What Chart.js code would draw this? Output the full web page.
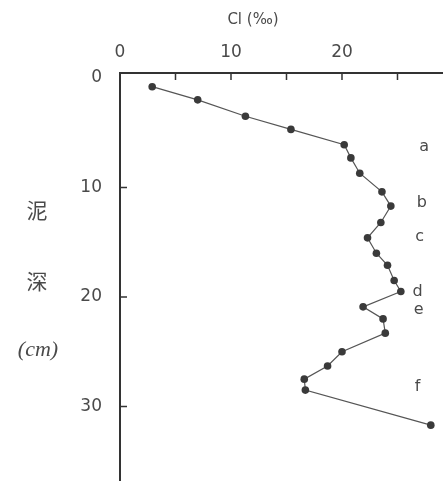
<!DOCTYPE html>
<html>
<head>
<meta charset="utf-8">
<script src="https://cdn.jsdelivr.net/npm/chart.js@4"></script>
<style>
  html, body { margin: 0; padding: 0; background: #fff; }
  #wrap { width: 443px; height: 481px; position: relative; }
</style>
</head>
<body>
<div id="wrap"><canvas id="chart"></canvas></div>
<script>
"use strict";

// ? DATA
// ! ========================== ! \\
const chlorinity = [2.9, 7.0, 11.3, 15.4, 20.2, 20.8, 21.6, 23.6, 24.4, 23.5, 22.3, 23.1,
  24.1, 24.7, 25.3, 21.9, 23.7, 23.9, 20.0, 18.7, 16.6, 16.7, 28.0];
const depth = [0.8, 2.0, 3.5, 4.7, 6.1, 7.3, 8.7, 10.4, 11.7, 13.2, 14.6, 16.0,
  17.1, 18.5, 19.5, 20.9, 22.0, 23.3, 25.0, 26.3, 27.5, 28.5, 31.7];

const layerNames = ["a", "b", "c", "d", "e", "f"];
const layerCl = [27.4, 27.2, 27.0, 26.8, 26.9, 26.8];
const layerDepth = [6.3, 11.4, 14.5, 19.5, 21.2, 28.2];

const xTicks = [0, 5, 10, 15, 20, 25];
const xTickLabels = ["0", "", "10", "", "20", ""];
const yTicks = [0, 10, 20, 30];
const yTickLabels = ["0", "10", "20", "30"];

const axisColor = "#333";
const textColor = "#4a4a4a";

// ? PLUGINS
// ! ========================== ! \\
const innerTicks = {
  id: "innerTicks",
  afterDraw: (chart) => {
    const { ctx, chartArea, scales } = chart;
    ctx.save();
    ctx.strokeStyle = axisColor;
    ctx.lineWidth = 1.5;
    ctx.beginPath();
    xTicks.forEach((v) => {
      if (v === 0) return;
      const px = scales.x.getPixelForValue(v);
      ctx.moveTo(px, chartArea.top);
      ctx.lineTo(px, chartArea.top + 7);
    });
    yTicks.forEach((v) => {
      if (v === 0) return;
      const py = scales.y.getPixelForValue(v);
      ctx.moveTo(chartArea.left, py);
      ctx.lineTo(chartArea.left + 7, py);
    });
    ctx.stroke();
    ctx.restore();
  },
};

const layerLabels = {
  id: "layerLabels",
  afterDatasetsDraw: (chart) => {
    const { ctx, scales } = chart;
    ctx.save();
    ctx.fillStyle = textColor;
    ctx.font = "16px 'DejaVu Sans'";
    ctx.textAlign = "center";
    ctx.textBaseline = "middle";
    layerNames.forEach((name, i) => {
      ctx.fillText(name, scales.x.getPixelForValue(layerCl[i]), scales.y.getPixelForValue(layerDepth[i]));
    });
    ctx.restore();
  },
};

const axisTitles = {
  id: "axisTitles",
  afterDraw: (chart) => {
    const { ctx } = chart;
    ctx.save();
    ctx.fillStyle = textColor;
    ctx.textAlign = "center";
    ctx.textBaseline = "middle";
    ctx.font = "15px 'DejaVu Sans'";
    ctx.fillText("Cl (‰)", 253, 20);
    ctx.font = "21px 'Noto Sans CJK SC'";
    ctx.fillText("泥", 37, 210);
    ctx.fillText("深", 37, 281);
    ctx.font = "italic 22px 'Liberation Serif'";
    ctx.fillText("(cm)", 38, 350);
    ctx.restore();
  },
};

// ? CHART
// ! ========================== ! \\
const points = chlorinity.map((v, i) => ({ x: v, y: depth[i] }));

const config = {
  type: "scatter",
  data: {
    datasets: [
      {
        data: points,
        showLine: true,
        borderColor: "#555",
        borderWidth: 1.2,
        pointRadius: 3.8,
        pointBackgroundColor: "#3a3a3a",
        pointBorderColor: "#3a3a3a",
        pointBorderWidth: 0,
      },
    ],
  },
  options: {
    responsive: false,
    animation: false,
    layout: { padding: 0, autoPadding: false },
    plugins: { legend: { display: false }, tooltip: { enabled: false } },
    scales: {
      x: {
        type: "linear",
        position: "top",
        min: 0,
        max: 29.1,
        afterBuildTicks: (s) => { s.ticks = xTicks.map((v) => ({ value: v })); },
        afterFit: (s) => {
          s.height = 73;
          s.paddingLeft = 0;
          s.paddingRight = 0;
        },
        grid: { display: false, drawTicks: false },
        border: { display: true, color: axisColor, width: 2 },
        ticks: {
          padding: 10,
          color: textColor,
          font: { family: "DejaVu Sans", size: 17 },
          maxRotation: 0,
          autoSkip: false,
          callback: (v) => xTickLabels[xTicks.indexOf(v)],
        },
      },
      y: {
        type: "linear",
        reverse: true,
        min: -0.45,
        max: 36.8,
        afterBuildTicks: (s) => { s.ticks = yTicks.map((v) => ({ value: v })); },
        afterFit: (s) => {
          s.width = 120;
          s.paddingTop = 0;
          s.paddingBottom = 0;
        },
        grid: { display: false, drawTicks: false },
        border: { display: true, color: axisColor, width: 2 },
        ticks: {
          padding: 18,
          color: textColor,
          font: { family: "DejaVu Sans", size: 17 },
          autoSkip: false,
          callback: (v) => yTickLabels[yTicks.indexOf(v)],
        },
      },
    },
  },
  plugins: [
    {
      id: "bgColor",
      beforeDraw: (chart) => {
        const { ctx, width, height } = chart;
        ctx.save();
        ctx.fillStyle = "#fff";
        ctx.fillRect(0, 0, width, height);
        ctx.restore();
      },
    },
    innerTicks,
    layerLabels,
    axisTitles,
  ],
};

const canvas = document.getElementById("chart");
canvas.width = 443;
canvas.height = 481;
new Chart(canvas.getContext("2d"), config);
</script>
</body>
</html>
